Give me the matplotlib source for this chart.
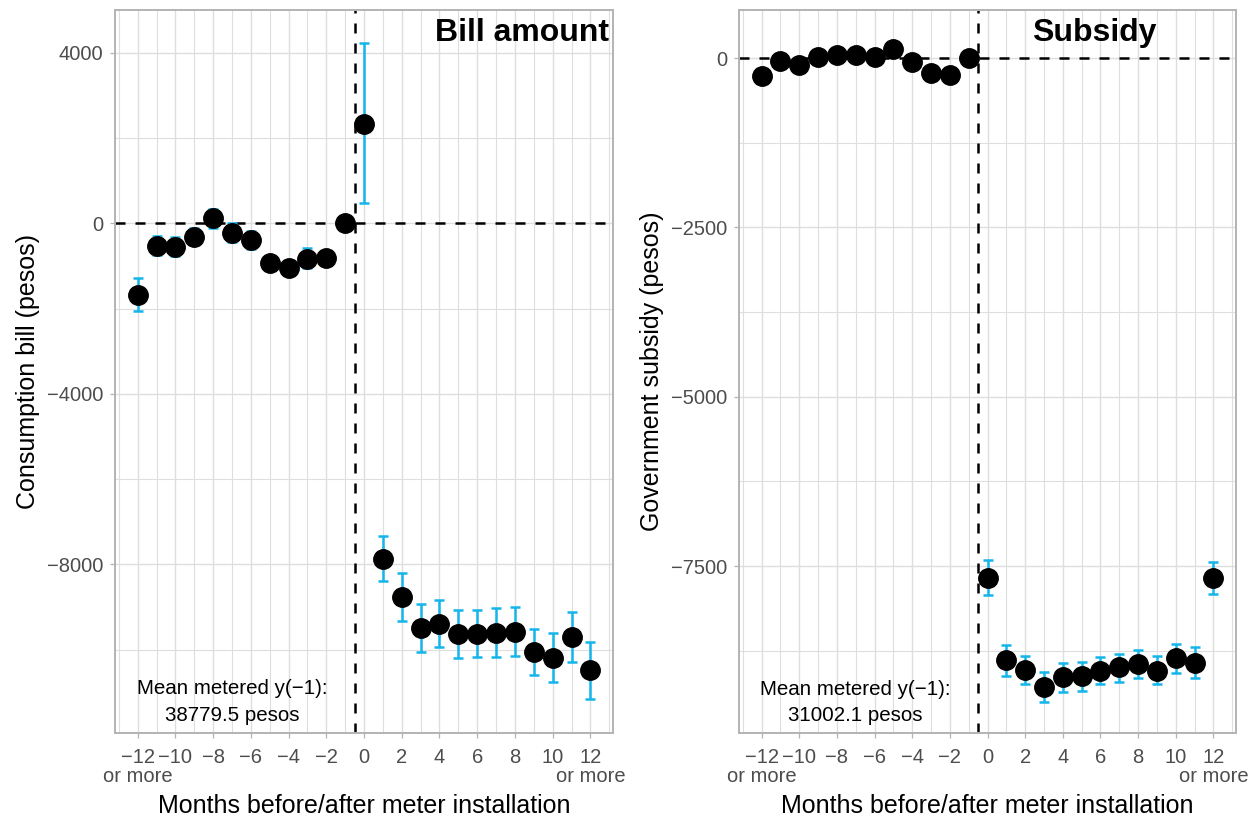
import matplotlib
matplotlib.use('Agg')
import matplotlib.pyplot as plt
from matplotlib.ticker import FixedLocator
import numpy as np

plt.rcParams['font.family'] = ['Liberation Sans', 'DejaVu Sans']

# months relative to meter installation
months = list(range(-12, 13))

# bill amount (pesos) with 95% CI
bill = [-1676, -530, -545, -311, 117, -218, -390, -920, -1037, -826, -803, 0,
        2339, -7867, -8756, -9497, -9396, -9630, -9622, -9599, -9575, -10058, -10182, -9700, -10486]
bill_lo = [-2050, -749, -760, -520, -117, -450, -610, -1080, -1200, -1060, -960, 0,
           468, -8381, -9326, -10058, -9941, -10191, -10168, -10159, -10135, -10603, -10760, -10292, -11164]
bill_hi = [-1290, -297, -330, -100, 343, 0, -170, -760, -870, -590, -640, 0,
           4227, -7338, -8195, -8935, -8842, -9068, -9062, -9028, -9005, -9514, -9606, -9115, -9824]

# government subsidy (pesos) with 95% CI
subsidy = [-266, -44, -108, 10, 44, 40, 10, 128, -59, -217, -246, 0,
           -7670, -8892, -9029, -9286, -9143, -9123, -9049, -8990, -8951, -9044, -8862, -8926, -7670]
subsidy_lo = [-326, -104, -168, -50, -16, -20, -50, 68, -119, -277, -306, 0,
              -7927, -9128, -9236, -9507, -9364, -9344, -9246, -9206, -9157, -9246, -9084, -9153, -7907]
subsidy_hi = [-206, 16, -48, 70, 104, 100, 70, 188, 1, -157, -186, 0,
              -7404, -8659, -8822, -9064, -8931, -8915, -8842, -8793, -8739, -8832, -8655, -8700, -7434]

x_ticks = list(range(-12, 13, 2))
x_labels = ['\u221212\nor more', '\u221210', '\u22128', '\u22126', '\u22124', '\u22122',
            '0', '2', '4', '6', '8', '10', '12\nor more']

bill_yticks = [4000, 0, -4000, -8000]
bill_ylabels = ['4000', '0', '\u22124000', '\u22128000']
subsidy_yticks = [0, -2500, -5000, -7500]
subsidy_ylabels = ['0', '\u22122500', '\u22125000', '\u22127500']

W, H = 1258, 821
ERR_COL = '#13B5EA'
GRID_COL = '#DEDEDE'
BORDER_COL = '#B3B3B3'


def make_axes(fig, x0, x1, y0=10, y1=733):
    return fig.add_axes([x0 / W, 1 - y1 / H, (x1 - x0) / W, (y1 - y0) / H])


def draw_panel(ax, y, lo, hi, yticks, ylabels, ylim, ylabel, title, title_x, title_ha, note, note_y):
    ax.set_xlim(-13.2, 13.2)
    ax.set_ylim(*ylim)
    # grid like theme_light
    ax.xaxis.set_major_locator(FixedLocator(x_ticks))
    ax.xaxis.set_minor_locator(FixedLocator(list(range(-13, 14, 2))))
    ax.yaxis.set_major_locator(FixedLocator(yticks))
    step = yticks[0] - yticks[1]
    minor = [t - step / 2 for t in yticks] + [yticks[0] + step / 2]
    ax.yaxis.set_minor_locator(FixedLocator(minor))
    ax.grid(True, which='major', color=GRID_COL, lw=1.0, zorder=0)
    ax.grid(True, which='minor', color=GRID_COL, lw=0.8, zorder=0)
    ax.set_axisbelow(True)
    ax.tick_params(which='minor', length=0)
    ax.tick_params(which='major', length=3.5, width=0.9, color=BORDER_COL,
                   labelcolor='#4D4D4D', labelsize=14.5)
    ax.tick_params(axis='x', pad=7)
    ax.tick_params(axis='y', pad=5)
    ax.set_xticklabels(x_labels, linespacing=1.0)
    ax.set_yticklabels(ylabels)
    for s in ax.spines.values():
        s.set_color(BORDER_COL)
        s.set_linewidth(1.4)

    ax.axhline(0, color='black', lw=1.8, ls=(0, (4, 4)), zorder=2)
    ax.axvline(-0.5, color='black', lw=1.8, ls=(0, (4, 4)), zorder=2)

    y = np.array(y)
    yerr = [y - np.array(lo), np.array(hi) - y]
    ax.errorbar(months, y, yerr=yerr, fmt='none', ecolor=ERR_COL, elinewidth=1.8,
                capsize=3.5, capthick=1.8, zorder=3)
    ax.plot(months, y, 'o', color='black', ms=14, zorder=4)

    ax.text(-7, note_y, note, ha='center', va='center', fontsize=14.8, linespacing=1.5)
    ax.text(title_x, 0.957, title, transform=ax.transAxes, ha=title_ha, va='baseline',
            fontsize=23, fontweight='bold')

    ax.set_xlabel('Months before/after meter installation', fontsize=18, labelpad=6)
    ax.set_ylabel(ylabel, fontsize=18, labelpad=5)


fig = plt.figure(figsize=(W / 100, H / 100), dpi=100)

ax1 = make_axes(fig, 115, 613)
draw_panel(ax1, bill, bill_lo, bill_hi, bill_yticks, bill_ylabels, (-11952, 5001),
           'Consumption bill (pesos)', 'Bill amount', 0.992, 'right',
           'Mean metered y(\u22121):\n38779.5 pesos', -11230)

ax2 = make_axes(fig, 739, 1236)
draw_panel(ax2, subsidy, subsidy_lo, subsidy_hi, subsidy_yticks, subsidy_ylabels, (-9965, 709),
           'Government subsidy (pesos)', 'Subsidy', 0.714, 'center',
           'Mean metered y(\u22121):\n31002.1 pesos', -9515)

fig.savefig('out.png', dpi=100)
